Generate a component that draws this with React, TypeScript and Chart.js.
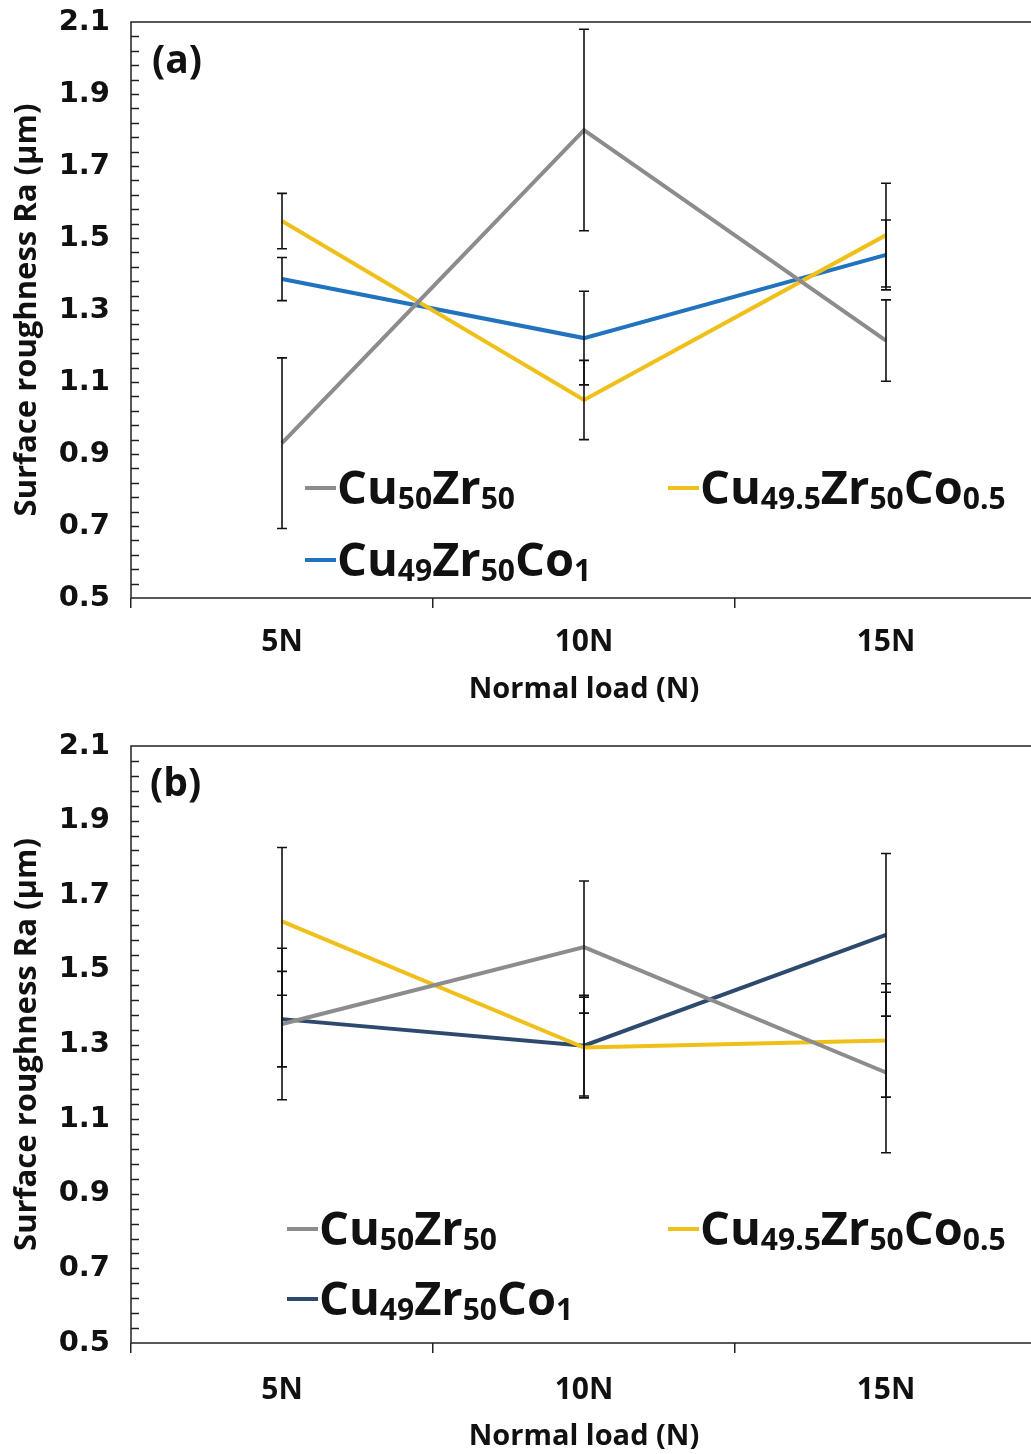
import React, { useEffect, useRef } from 'react';
import { Chart, registerables } from 'chart.js';
Chart.register(...registerables);

const categories = ['5N', '10N', '15N'];
const yMin = 0.5;
const yMax = 2.1;
const yStep = 0.2;
const yMinorStep = 0.04;

// Panel (a)
const aCu50Zr50 = [0.93, 1.8, 1.215];
const aCu50Zr50Err = [0.237, 0.28, 0.113];
const aCu495Co05 = [1.547, 1.05, 1.508];
const aCu495Co05Err = [0.077, 0.11, 0.144];
const aCu49Co1 = [1.386, 1.222, 1.453];
const aCu49Co1Err = [0.06, 0.13, 0.097];

// Panel (b)
const bCu50Zr50 = [1.355, 1.561, 1.225];
const bCu50Zr50Err = [0.203, 0.177, 0.215];
const bCu495Co05 = [1.63, 1.292, 1.311];
const bCu495Co05Err = [0.198, 0.135, 0.152];
const bCu49Co1 = [1.368, 1.297, 1.594];
const bCu49Co1Err = [0.128, 0.135, 0.218];

type Part = { t: string; sub?: boolean };
const nameCu50Zr50: Part[] = [{ t: 'Cu' }, { t: '50', sub: true }, { t: 'Zr' }, { t: '50', sub: true }];
const nameCu495Co05: Part[] = [{ t: 'Cu' }, { t: '49.5', sub: true }, { t: 'Zr' }, { t: '50', sub: true }, { t: 'Co' }, { t: '0.5', sub: true }];
const nameCu49Co1: Part[] = [{ t: 'Cu' }, { t: '49', sub: true }, { t: 'Zr' }, { t: '50', sub: true }, { t: 'Co' }, { t: '1', sub: true }];
const plainName = (p: Part[]) => p.map((q) => q.t).join('');

const GRAY = '#8c8c8c';
const YELLOW = '#f0c01a';
const BLUE_A = '#2173c0';
const BLUE_B = '#2d4a6e';

const FONT = "'Open Sans', sans-serif";
const TICK_FONT = "'DejaVu Sans', sans-serif";

const decorPlugin = {
  id: 'decor',
  afterDatasetsDraw(chart: any, _args: any, opts: any) {
    const { ctx, chartArea: ca, scales } = chart;
    const x = scales.x;
    const y = scales.y;
    ctx.save();
    // error bars
    ctx.strokeStyle = '#111';
    ctx.lineWidth = 1.6;
    chart.data.datasets.forEach((ds: any, di: number) => {
      const errs: number[] = opts.errors[di];
      ds.data.forEach((v: number, i: number) => {
        const px = x.getPixelForValue(i);
        const yt = y.getPixelForValue(v + errs[i]);
        const yb = y.getPixelForValue(v - errs[i]);
        ctx.beginPath();
        ctx.moveTo(px, yt);
        ctx.lineTo(px, yb);
        ctx.moveTo(px - 5, yt);
        ctx.lineTo(px + 5, yt);
        ctx.moveTo(px - 5, yb);
        ctx.lineTo(px + 5, yb);
        ctx.stroke();
      });
    });
    // minor ticks inward on y axis
    ctx.strokeStyle = '#222';
    ctx.lineWidth = 1.5;
    const n = Math.round((yMax - yMin) / yMinorStep);
    for (let k = 1; k < n; k++) {
      const py = Math.round(y.getPixelForValue(yMin + k * yMinorStep)) + 0.5;
      ctx.beginPath();
      ctx.moveTo(ca.left, py);
      ctx.lineTo(ca.left + 8, py);
      ctx.stroke();
    }
    // frame
    ctx.strokeStyle = '#222';
    ctx.lineWidth = 1.5;
    ctx.strokeRect(ca.left, ca.top, ca.right - ca.left, ca.bottom - ca.top);
    // panel letter
    ctx.fillStyle = '#111';
    ctx.font = `bold 39px ${FONT}`;
    ctx.textBaseline = 'middle';
    ctx.textAlign = 'left';
    ctx.fillText(opts.letter, opts.letterPos[0], opts.letterPos[1]);
    // legend
    opts.legend.forEach((item: any) => {
      const [lx, ly] = item.pos;
      ctx.strokeStyle = item.color;
      ctx.lineWidth = 4;
      ctx.beginPath();
      ctx.moveTo(lx, ly);
      ctx.lineTo(lx + 31, ly);
      ctx.stroke();
      let cx = lx + 32;
      const base = ly + 16;
      ctx.fillStyle = '#111';
      ctx.textBaseline = 'alphabetic';
      item.parts.forEach((p: Part) => {
        ctx.font = p.sub ? `bold 30px ${FONT}` : `bold 47px ${FONT}`;
        ctx.fillText(p.t, cx, p.sub ? base + 5 : base);
        cx += ctx.measureText(p.t).width;
      });
    });
    ctx.restore();
  },
};

type PanelProps = {
  height: number;
  padTop: number;
  xAxisH: number;
  xTickPad: number;
  titlePadBottom: number;
  series: { name: Part[]; data: number[]; err: number[]; color: string }[];
  letter: string;
  letterPos: [number, number];
  legendPos: [number, number][];
};

function Panel(props: PanelProps) {
  const ref = useRef<HTMLCanvasElement>(null);
  useEffect(() => {
    if (!ref.current) return;
    const chart = new Chart(ref.current, {
      type: 'line',
      data: {
        labels: categories,
        datasets: props.series.map((s) => ({
          label: plainName(s.name),
          data: s.data,
          borderColor: s.color,
          backgroundColor: s.color,
          borderWidth: 4,
          pointRadius: 0,
          tension: 0,
        })),
      },
      options: {
        responsive: false,
        animation: false,
        devicePixelRatio: 1,
        layout: { padding: { top: props.padTop, right: 23, left: 0, bottom: 0 } },
        plugins: {
          legend: { display: false },
          tooltip: { enabled: false },
          decor: {
            errors: props.series.map((s) => s.err),
            letter: props.letter,
            letterPos: props.letterPos,
            legend: props.series.map((s, i) => ({ parts: s.name, color: s.color, pos: props.legendPos[i] })),
          },
        } as any,
        scales: {
          x: {
            type: 'category',
            offset: true,
            grid: { display: true, offset: true, drawOnChartArea: false, drawTicks: true, tickLength: 10, color: '#222', lineWidth: 1.5 },
            border: { display: false },
            ticks: { color: '#111', font: { family: FONT, size: 30, weight: 'bold' }, padding: props.xTickPad },
            title: {
              display: true,
              text: 'Normal load (N)',
              color: '#111',
              font: { family: FONT, size: 29, weight: 'bold' },
              padding: { top: 0, bottom: props.titlePadBottom },
            },
            afterFit: (s: any) => {
              s.height = props.xAxisH;
              s.paddingLeft = 0;
              s.paddingRight = 0;
            },
          },
          y: {
            min: yMin,
            max: yMax,
            grid: { display: false, drawTicks: false },
            border: { display: false },
            ticks: {
              stepSize: yStep,
              color: '#111',
              font: { family: TICK_FONT, size: 29, weight: 'bold' },
              padding: 21,
              callback: (v: any) => Number(v).toFixed(1),
            },
            title: {
              display: true,
              text: 'Surface roughness Ra (µm)',
              color: '#111',
              font: { family: FONT, size: 31, weight: 'bold' },
              padding: { top: 9, bottom: 0 },
            },
            afterFit: (s: any) => {
              s.width = 131;
              s.paddingTop = 0;
              s.paddingBottom = 0;
            },
          },
        },
      },
      plugins: [decorPlugin],
    });
    return () => chart.destroy();
  }, []);
  return <canvas ref={ref} width={1060} height={props.height} style={{ display: 'block' }} />;
}

export default function App() {
  return (
    <div style={{ position: 'absolute', left: 0, top: 0, width: 1031, height: 1454, overflow: 'hidden', background: '#fff' }}>
      <Panel
        height={722}
        padTop={22}
        xAxisH={124}
        xTickPad={16}
        titlePadBottom={15}
        letter="(a)"
        letterPos={[152, 62]}
        legendPos={[
          [305, 488],
          [668, 488],
          [305, 560],
        ]}
        series={[
          { name: nameCu50Zr50, data: aCu50Zr50, err: aCu50Zr50Err, color: GRAY },
          { name: nameCu495Co05, data: aCu495Co05, err: aCu495Co05Err, color: YELLOW },
          { name: nameCu49Co1, data: aCu49Co1, err: aCu49Co1Err, color: BLUE_A },
        ]}
      />
      <Panel
        height={732}
        padTop={24}
        xAxisH={111}
        xTickPad={19}
        titlePadBottom={0}
        letter="(b)"
        letterPos={[150, 63]}
        legendPos={[
          [287, 507],
          [668, 507],
          [287, 577],
        ]}
        series={[
          { name: nameCu50Zr50, data: bCu50Zr50, err: bCu50Zr50Err, color: GRAY },
          { name: nameCu495Co05, data: bCu495Co05, err: bCu495Co05Err, color: YELLOW },
          { name: nameCu49Co1, data: bCu49Co1, err: bCu49Co1Err, color: BLUE_B },
        ]}
      />
    </div>
  );
}
